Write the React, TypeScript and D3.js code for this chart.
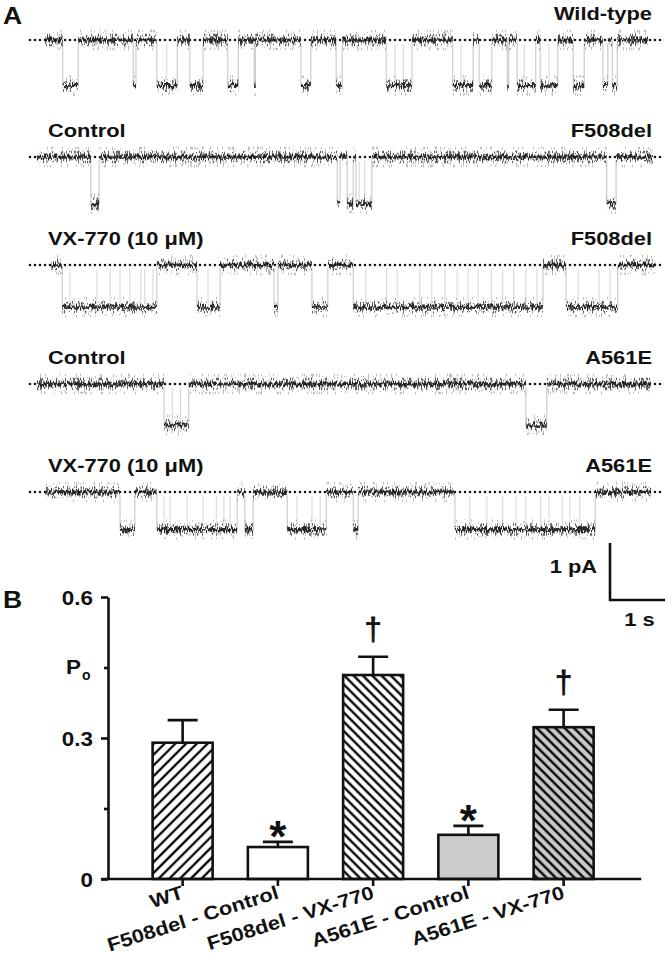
import React, { useEffect, useRef } from "react";
import * as d3 from "d3";

// ---- panel A: single-channel records (times in s, amplitudes in pA) ----
const rowConditions = ["", "Control", "VX-770 (10 μM)", "Control", "VX-770 (10 μM)"];
const rowChannels = ["Wild-type", "F508del", "F508del", "A561E", "A561E"];
const rowAmplitudes = [0.8, 0.82, 0.74, 0.72, 0.66];
const rowSpans = [
  [0.24, 11.2],
  [0.09, 11.29],
  [0.35, 11.33],
  [0.09, 11.25],
  [0.24, 11.25],
];

const wtBursts = [
  [0.56, 0.84], [1.84, 1.89], [2.27, 2.64], [2.87, 3.11], [3.56, 3.75],
  [4.04, 4.06], [4.89, 5.07], [5.53, 5.64], [6.44, 6.91], [7.65, 8.02],
  [8.13, 8.36], [8.64, 8.67], [8.82, 9.16], [9.24, 9.56], [9.84, 10.04],
  [10.38, 10.47], [10.55, 10.64],
];
const f508ControlBursts = [[1.07, 1.22], [5.55, 5.6], [5.73, 5.84], [5.89, 6.18], [10.45, 10.62]];
const f508VxBursts = [[0.55, 2.27], [3.0, 3.42], [4.4, 4.47], [5.09, 5.38], [5.84, 9.29], [9.71, 10.65]];
const a561ControlBursts = [[2.4, 2.85], [8.98, 9.36]];
const a561VxBursts = [[1.6, 1.87], [2.27, 3.73], [3.87, 4.02], [4.64, 5.35], [5.84, 5.93], [7.69, 10.24]];

const wtFlickers = [2.45, 6.6, 6.75, 7.8, 8.95, 9.4];
const f508ControlFlickers = [5.95, 6.05];
const f508VxFlickers = [
  0.69, 1.18, 1.42, 1.6, 1.78, 1.98, 2.05, 2.2, 3.2, 6.07, 6.45, 6.64, 7.05, 7.27,
  7.51, 7.73, 7.93, 8.11, 8.35, 8.56, 8.76, 8.98, 9.18, 9.93, 10.31, 10.51,
];
const a561ControlFlickers = [2.55, 2.7];
const a561VxFlickers = [
  2.4, 2.51, 2.82, 3.11, 3.35, 3.49, 3.6, 4.82, 5.09, 5.24, 7.96, 8.27, 8.56, 8.8,
  8.98, 9.25, 9.4, 9.64, 9.78, 9.96,
];

const rowBursts = [wtBursts, f508ControlBursts, f508VxBursts, a561ControlBursts, a561VxBursts];
const rowFlickers = [wtFlickers, f508ControlFlickers, f508VxFlickers, a561ControlFlickers, a561VxFlickers];

// ---- panel B: open probability ----
const groups = ["WT", "F508del - Control", "F508del - VX-770", "A561E - Control", "A561E - VX-770"];
const poMean = [0.29, 0.068, 0.434, 0.094, 0.323];
const poSem = [0.048, 0.011, 0.039, 0.019, 0.037];
const poMarks = ["", "*", "†", "*", "†"];
const yTicks = [0, 0.3, 0.6];
const yMinorTicks = [0.15, 0.45];

const font = "'Liberation Sans', Arial, Helvetica, sans-serif";

const App = () => {
  const ref = useRef<SVGSVGElement>(null);

  useEffect(() => {
    const svg = d3.select(ref.current);
    svg.selectAll("*").remove();

    const defs = svg.append("defs");
    // vertical-only jitter to give the records their noisy look
    const addJitter = (id: string, freq: string, scale: number, seed: number) => {
      const f = defs
        .append("filter")
        .attr("id", id)
        .attr("filterUnits", "userSpaceOnUse")
        .attr("x", 0)
        .attr("y", 0)
        .attr("width", 670)
        .attr("height", 560);
      f.append("feTurbulence")
        .attr("type", "fractalNoise")
        .attr("baseFrequency", freq)
        .attr("numOctaves", 2)
        .attr("seed", seed)
        .attr("result", "t");
      const ct = f.append("feComponentTransfer").attr("in", "t").attr("result", "c");
      ct.append("feFuncR").attr("type", "linear").attr("slope", 0).attr("intercept", 0.5);
      ct.append("feFuncG").attr("type", "linear").attr("slope", 3.2).attr("intercept", -1.1);
      f.append("feDisplacementMap")
        .attr("in", "SourceGraphic")
        .attr("in2", "c")
        .attr("scale", scale)
        .attr("xChannelSelector", "R")
        .attr("yChannelSelector", "G");
    };
    addJitter("jitWide", "1.1 0.05", 18, 3);
    addJitter("jitMid", "0.9 0.07", 10, 7);
    addJitter("jitFine", "0.8 0.1", 4, 11);

    const hatch = (id: string, angle: number, gap: number, bg: string) => {
      const p = defs
        .append("pattern")
        .attr("id", id)
        .attr("patternUnits", "userSpaceOnUse")
        .attr("width", gap)
        .attr("height", gap)
        .attr("patternTransform", `rotate(${angle})`);
      p.append("rect").attr("width", gap).attr("height", gap).attr("fill", bg);
      p.append("line")
        .attr("x1", gap / 2)
        .attr("x2", gap / 2)
        .attr("y1", 0)
        .attr("y2", gap)
        .attr("stroke", "#000")
        .attr("stroke-width", 2.3);
    };
    hatch("hWT", 45, 7.6, "#fff");
    hatch("hVX", -45, 6.6, "#fff");
    hatch("hVXg", -45, 6.6, "#c9c9c9");
    const barFills = ["url(#hWT)", "#fff", "url(#hVX)", "#cbcbcb", "url(#hVXg)"];

    const text = (x: number, y: number, str: string, size: number, anchor = "start") =>
      svg
        .append("text")
        .attr("transform", `translate(${x},${y}) scale(1.15,1)`)
        .attr("text-anchor", anchor)
        .attr("font-family", font)
        .attr("font-weight", "bold")
        .attr("font-size", size)
        .attr("fill", "#111")
        .text(str);

    // ---------------- panel A ----------------
    text(3, 24, "A", 23);
    const xTime = d3.scaleLinear().domain([0, 11.5]).range([32, 664.5]);
    const pA = d3.scaleLinear().domain([0, 1]).range([0, 57]);
    const rowY = [40, 157, 265, 384, 492];

    rowY.forEach((y0, i) => {
      const g = svg.append("g");
      const yOpen = y0 + pA(rowAmplitudes[i]);
      const span = rowSpans[i];
      const bursts = rowBursts[i];

      if (rowConditions[i]) text(48, y0 - 20, rowConditions[i], 19);
      text(652, y0 - 20, rowChannels[i], 19, "end");

      // closed-level reference
      g.append("line")
        .attr("x1", 30)
        .attr("x2", 665)
        .attr("y1", y0)
        .attr("y2", y0)
        .attr("stroke", "#111")
        .attr("stroke-width", 2.6)
        .attr("stroke-linecap", "round")
        .attr("stroke-dasharray", "0 5");

      const closed: number[][] = [];
      let cur = span[0];
      bursts.forEach((b) => {
        if (b[0] > cur) closed.push([cur, b[0]]);
        cur = b[1];
      });
      closed.push([cur, span[1]]);
      const segs = [
        ...closed.map((s) => ({ a: s[0], b: s[1], y: y0 })),
        ...bursts.map((s) => ({ a: s[0], b: s[1], y: yOpen })),
      ];

      // transitions and brief closures
      const edges = bursts.flatMap((b) => [b[0], b[1]]);
      g.selectAll(".tr")
        .data(edges)
        .enter()
        .append("line")
        .attr("x1", (d) => xTime(d))
        .attr("x2", (d) => xTime(d))
        .attr("y1", y0 + 3)
        .attr("y2", yOpen)
        .attr("stroke", "#aaa")
        .attr("stroke-width", 1)
        .attr("opacity", 0.7);
      g.selectAll(".fl")
        .data(rowFlickers[i])
        .enter()
        .append("line")
        .attr("x1", (d) => xTime(d))
        .attr("x2", (d) => xTime(d))
        .attr("y1", y0 + 4)
        .attr("y2", yOpen - 3)
        .attr("stroke", "#c4c4c4")
        .attr("stroke-width", 1)
        .attr("opacity", 0.7);

      const layers = [
        { f: "jitWide", c: "#8a8a8a", w: 2.5, o: 0.55 },
        { f: "jitMid", c: "#3a3a3a", w: 2.5, o: 0.8 },
        { f: "jitFine", c: "#222", w: 3.2, o: 0.95 },
      ];
      layers.forEach((L) => {
        g.append("g")
          .attr("filter", `url(#${L.f})`)
          .attr("opacity", L.o)
          .selectAll("line")
          .data(segs)
          .enter()
          .append("line")
          .attr("x1", (d) => xTime(d.a))
          .attr("x2", (d) => Math.max(xTime(d.b), xTime(d.a) + 1.5))
          .attr("y1", (d) => d.y)
          .attr("y2", (d) => d.y)
          .attr("stroke", L.c)
          .attr("stroke-width", L.w);
      });
    });

    // scale bars
    const sbX = 610;
    const sbY = 600;
    svg
      .append("path")
      .attr("d", `M${sbX},${sbY - pA(1)}V${sbY}H${sbX + xTime(1) - xTime(0)}`)
      .attr("fill", "none")
      .attr("stroke", "#111")
      .attr("stroke-width", 2.6);
    text(597, 573, "1 pA", 19, "end");
    text(sbX + (xTime(1) - xTime(0)) / 2 + 2, 626, "1 s", 19, "middle");

    // ---------------- panel B ----------------
    text(3, 608, "B", 23);
    const y = d3.scaleLinear().domain([0, 0.6]).range([879, 597]);
    const x = d3
      .scaleBand()
      .domain(groups)
      .range([135, 611.25])
      .paddingInner(0.37)
      .paddingOuter(0.185);
    const axisX = 108;

    const yAxis = svg
      .append("g")
      .attr("transform", `translate(${axisX},0)`)
      .call(
        d3
          .axisLeft(y)
          .tickValues(yTicks)
          .tickSize(7)
          .tickSizeOuter(0)
          .tickFormat((d) => (d === 0 ? "0" : d3.format(".1f")(d as number)))
      );
    yAxis.select(".domain").attr("stroke-width", 2.6).attr("stroke", "#111");
    yAxis.selectAll(".tick line").attr("stroke-width", 2.6).attr("stroke", "#111");
    yAxis
      .selectAll(".tick text")
      .attr("x", null)
      .attr("dy", null)
      .attr("transform", "translate(-15,7) scale(1.15,1)")
      .attr("font-family", font)
      .attr("font-weight", "bold")
      .attr("font-size", 19.5)
      .attr("fill", "#111");
    const yMinor = svg
      .append("g")
      .attr("transform", `translate(${axisX},0)`)
      .call(d3.axisLeft(y).tickValues(yMinorTicks).tickSize(4).tickFormat(() => ""));
    yMinor.select(".domain").remove();
    yMinor.selectAll(".tick line").attr("stroke-width", 2.6).attr("stroke", "#111");

    text(66, y(0.45) + 6, "P", 19.5);
    svg
      .append("text")
      .attr("x", 82)
      .attr("y", y(0.45) + 12)
      .attr("font-family", font)
      .attr("font-weight", "bold")
      .attr("font-size", 14)
      .attr("fill", "#111")
      .text("o");

    // bars
    const bars = svg.append("g");
    groups.forEach((gname, i) => {
      const bx = x(gname) as number;
      const cx = bx + x.bandwidth() / 2;
      bars
        .append("rect")
        .attr("x", bx)
        .attr("y", y(poMean[i]))
        .attr("width", x.bandwidth())
        .attr("height", y(0) - y(poMean[i]))
        .attr("fill", barFills[i])
        .attr("stroke", "#111")
        .attr("stroke-width", 2.6);
      const top = y(poMean[i] + poSem[i]);
      bars
        .append("path")
        .attr("d", `M${cx},${y(poMean[i])}V${top}M${cx - 15},${top}H${cx + 15}`)
        .attr("stroke", "#111")
        .attr("stroke-width", 2.6);
      if (poMarks[i] === "*") {
        bars
          .append("text")
          .attr("x", cx)
          .attr("y", top + 10)
          .attr("text-anchor", "middle")
          .attr("font-family", font)
          .attr("font-weight", "bold")
          .attr("font-size", 44)
          .attr("fill", "#111")
          .text("*");
      } else if (poMarks[i]) {
        bars
          .append("text")
          .attr("x", cx)
          .attr("y", top - 17)
          .attr("text-anchor", "middle")
          .attr("font-family", font)
          .attr("font-size", 31)
          .attr("fill", "#111")
          .attr("stroke", "#111")
          .attr("stroke-width", 0.8)
          .text(poMarks[i]);
      }
    });

    // x axis
    const xAxis = svg
      .append("g")
      .attr("transform", `translate(0,${y(0)})`)
      .call(d3.axisBottom(x).tickSize(7).tickSizeOuter(0));
    xAxis.select(".domain").remove();
    xAxis
      .append("line")
      .attr("x1", axisX - 7)
      .attr("x2", x.range()[1] + 30)
      .attr("stroke", "#111")
      .attr("stroke-width", 2.6);
    xAxis.selectAll(".tick line").attr("stroke-width", 2.6).attr("stroke", "#111");
    xAxis
      .selectAll(".tick text")
      .attr("y", null)
      .attr("dy", null)
      .attr("text-anchor", "end")
      .attr("transform", "translate(2,19) rotate(-17.5) scale(1.15,1)")
      .attr("font-family", font)
      .attr("font-weight", "bold")
      .attr("font-size", 19)
      .attr("fill", "#111");
  }, []);

  return (
    <svg
      ref={ref}
      width={670}
      height={954}
      style={{ position: "absolute", left: 0, top: 0, background: "#fff" }}
    />
  );
};

export default App;
